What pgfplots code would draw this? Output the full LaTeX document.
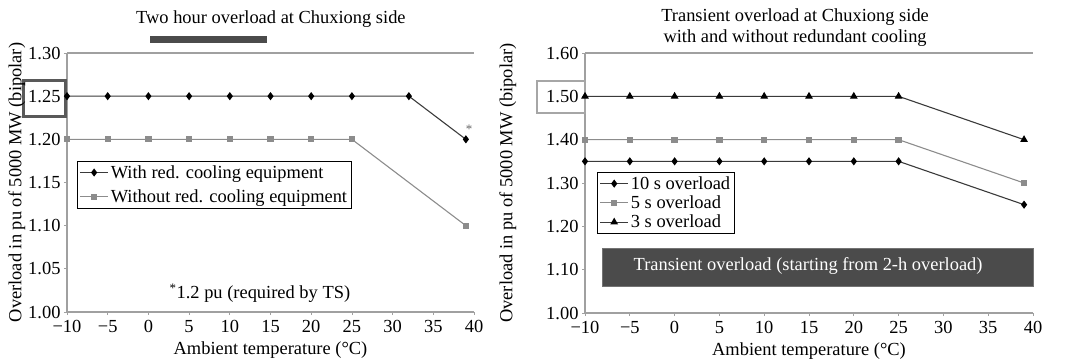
\documentclass[border=0pt]{standalone}
\usepackage{fontspec}
\setmainfont{Liberation Serif}
\usepackage{pgfplots}
\pgfplotsset{compat=1.18}
\definecolor{darkline}{HTML}{3A3A3A}
\definecolor{grayline}{HTML}{8C8C8C}
\definecolor{boxfill}{HTML}{4B4B4B}
\definecolor{spine}{HTML}{A0A0A0}
\pgfplotsset{
  myaxis/.style={
    scale only axis,
    font=\fontsize{18.5}{21}\selectfont,
    axis y line*=left,
    axis line style={spine, line width=1.2pt},
    xmin=-10, xmax=40,
    xtick={-10,-5,...,40},
    xticklabels={−10,−5,0,5,10,15,20,25,30,35,40},
    xtick pos=bottom,
    tick style={spine, line width=0.8pt},
    tick align=outside, major tick length=3bp,
    yticklabel style={/pgf/number format/.cd, fixed, fixed zerofill, precision=2, assume math mode=true},
    xticklabel style={yshift=-2bp},
    xlabel={Ambient temperature (°C)},
    xlabel style={yshift=-1.5bp},
    ylabel={Overload in pu of 5000 MW (bipolar)},
    legend cell align=left,
    legend style={draw=black, line width=0.8pt, font=\fontsize{18.5}{21}\selectfont, inner sep=2pt},
    legend image code/.code={\draw[mark repeat=2,mark phase=2,##1] plot coordinates {(0cm,0cm)(0.5cm,0cm)(1cm,0cm)};},
    clip=false,
  },
  darkser/.style={darkline, line width=1.1pt, mark options={fill=black, draw=black, solid}},
  grayser/.style={grayline, line width=1.1pt, mark=square*, mark size=2.6bp, mark options={fill=grayline, draw=grayline}},
}
\begin{document}
\begin{tikzpicture}
\path[use as bounding box] (0,0) rectangle (1072bp,-360bp);
% ---------------- left axis ----------------
\begin{axis}[myaxis,
  at={(67bp,-312bp)}, anchor=south west,
  width=407bp, height=259bp,
  ymin=1.0, ymax=1.3,
  ytick={1.00,1.05,...,1.31},
  ylabel style={at={(rel axis cs:-0.123,0.5)}, anchor=center},
  title={Two hour overload at Chuxiong side},
  title style={at={(rel axis cs:0.501,1.108)}, anchor=center},
  legend style={at={(rel axis cs:0.0246,0.583)}, anchor=north west, row sep=6pt},
]
\addplot[darkser, mark=diamond*, mark size=3.2bp] coordinates {
(-10,1.25) (-5,1.25) (0,1.25) (5,1.25) (10,1.25) (15,1.25) (20,1.25) (25,1.25) (32,1.25) (39,1.20)};
\addlegendentry{With red. cooling equipment}
\addplot[grayser] coordinates {
(-10,1.20) (-5,1.20) (0,1.20) (5,1.20) (10,1.20) (15,1.20) (20,1.20) (25,1.20) (39,1.10)};
\addlegendentry{Without red. cooling equipment}
\fill[boxfill] (axis cs:0.2,1.3197) rectangle (axis cs:14.6,1.3116);
\draw[color=black!65, line width=3bp] (axis cs:-15.35,1.2685) rectangle (axis cs:-10.2,1.2262);
\node[font=\fontsize{18.5}{21}\selectfont] at (axis cs:13.7,1.022) {\textsuperscript{*}1.2 pu (required by TS)};
\node[font=\fontsize{13}{14}\selectfont, text=black!60] at (axis cs:39.4,1.212) {*};
\end{axis}
% ---------------- right axis ----------------
\begin{axis}[myaxis,
  at={(585bp,-313bp)}, anchor=south west,
  width=448bp, height=260bp,
  ymin=1.0, ymax=1.6,
  ytick={1.00,1.10,...,1.61},
  ylabel style={at={(rel axis cs:-0.172,0.5)}, anchor=center},
  title={Transient overload at Chuxiong side\\with and without redundant cooling},
  title style={at={(rel axis cs:0.469,1.073)}, anchor=center, align=center, font=\fontsize{18.5}{21}\selectfont},
  legend style={at={(rel axis cs:0.027,0.542)}, anchor=north west, row sep=1pt},
]
\draw[color=black!35, line width=2bp] (axis cs:-15.36,1.535) rectangle (axis cs:-10,1.4615);
\addplot[darkser, mark=diamond*, mark size=3.2bp] coordinates {
(-10,1.35) (-5,1.35) (0,1.35) (5,1.35) (10,1.35) (15,1.35) (20,1.35) (25,1.35) (39,1.25)};
\addlegendentry{10 s overload}
\addplot[grayser] coordinates {
(-10,1.40) (-5,1.40) (0,1.40) (5,1.40) (10,1.40) (15,1.40) (20,1.40) (25,1.40) (39,1.30)};
\addlegendentry{5 s overload}
\addplot[darkser, mark=triangle*, mark size=3.4bp] coordinates {
(-10,1.50) (-5,1.50) (0,1.50) (5,1.50) (10,1.50) (15,1.50) (20,1.50) (25,1.50) (39,1.40)};
\addlegendentry{3 s overload}
\filldraw[fill=boxfill, draw=black!55, line width=1pt] (axis cs:-8.1,1.148) rectangle (axis cs:40,1.062);
\node[text=white, font=\fontsize{18.5}{21}\selectfont] at (axis cs:14.9,1.108) {Transient overload (starting from 2-h overload)};
\end{axis}
\end{tikzpicture}
\end{document}
